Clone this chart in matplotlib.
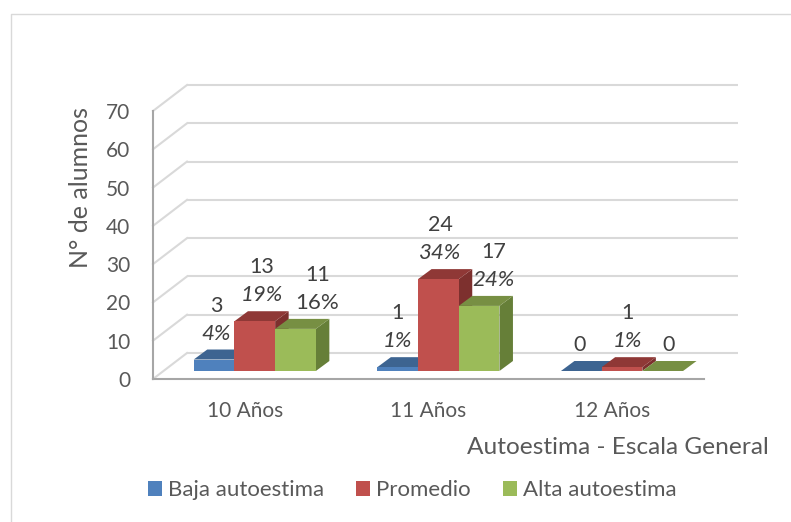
import matplotlib.pyplot as plt
from matplotlib.patches import Polygon, Rectangle
from matplotlib.transforms import Affine2D

plt.rcParams["font.family"] = ["Lato", "DejaVu Sans"]

categories = ["10 Años", "11 Años", "12 Años"]
series = ["Baja autoestima", "Promedio", "Alta autoestima"]
baja = [3, 1, 0]
promedio = [13, 24, 1]
alta = [11, 17, 0]
baja_pct = ["4%", "1%", ""]
promedio_pct = ["19%", "34%", "1%"]
alta_pct = ["16%", "24%", ""]
y_ticks = [0, 10, 20, 30, 40, 50, 60, 70]

front_colors = ["#4F81BD", "#C0504D", "#9BBB59"]
top_colors = ["#3D6491", "#8F3836", "#778F43"]
side_colors = ["#355579", "#7D302E", "#667F38"]
# horizontal nudge of the labels per series and group, pixels
label_dx = [[2, 0, -2], [7, 2, 5.5], [22, 14.5, 6]]

TEXT = "#595959"
LABEL = "#404040"
GRID = "#D9D9D9"
AXIS = "#A6A6A6"

CAT_PX = 183.6
UNIT_PX = 268 / 70
BAR_W = 40.7 / CAT_PX
DEPTH_X = 13.5 / CAT_PX
DEPTH_Y = 10 / UNIT_PX


def shifted(ax, dx, dy):
    return ax.transData + Affine2D().translate(dx, dy)


fig = plt.figure(figsize=(7.91, 5.22), dpi=100)
ax = fig.add_axes([153 / 791, (522 - 379) / 522, 3 * CAT_PX / 791, 268 / 522])
ax.set_xlim(-0.5, 2.5)
ax.set_ylim(0, 70)
ax.patch.set_visible(False)

# outer chart border
fig.add_artist(plt.Line2D([11 / 791, 11 / 791, 1], [0, 1 - 14 / 522, 1 - 14 / 522],
                          color=GRID, lw=1.0))

# walls
back = shifted(ax, 34, 26)
ax.hlines(y_ticks, -0.5, 2.5, color=GRID, lw=1.5, transform=back, clip_on=False, zorder=1)
for t in y_ticks:
    ax.plot([-0.5, -0.5 + 34 / CAT_PX], [t, t + 26 / UNIT_PX], color=GRID, lw=1.5,
            clip_on=False, zorder=1)

# bars, left to right so the later ones cover the earlier sides
plane = shifted(ax, 10, 8)
all_values = [baja, promedio, alta]
all_pct = [baja_pct, promedio_pct, alta_pct]
handles = []
for s, values in enumerate(all_values):
    for g, v in enumerate(values):
        x0 = g + (s - 1.5) * BAR_W
        x1 = x0 + BAR_W
        z = 3 + s + 3 * g
        rect = Rectangle((x0, 0), BAR_W, v, facecolor=front_colors[s], edgecolor="none",
                         transform=plane, clip_on=False, zorder=z + 0.2)
        ax.add_patch(rect)
        top = [(x0, v), (x1, v), (x1 + DEPTH_X, v + DEPTH_Y), (x0 + DEPTH_X, v + DEPTH_Y)]
        side = [(x1, 0), (x1 + DEPTH_X, DEPTH_Y), (x1 + DEPTH_X, v + DEPTH_Y), (x1, v)]
        ax.add_patch(Polygon(side, facecolor=side_colors[s], edgecolor="none",
                             transform=plane, clip_on=False, zorder=z))
        ax.add_patch(Polygon(top, facecolor=top_colors[s], edgecolor="none",
                             transform=plane, clip_on=False, zorder=z + 0.1))
        cx = x0 + BAR_W / 2
        dx = 10 + label_dx[s][g]
        pct = all_pct[s][g]
        ax.annotate(str(v), (cx, v), xytext=(dx, 8 + (54 if pct else 26)),
                    textcoords="offset pixels", ha="center", va="center",
                    fontsize=15.5, color=LABEL, zorder=30)
        if pct:
            # the 16% label of the reference is upright
            style = "normal" if pct == "16%" else "italic"
            ax.annotate(pct, (cx, v), xytext=(dx, 8 + 26), textcoords="offset pixels",
                        ha="center", va="center", fontsize=16, style=style,
                        color=LABEL, zorder=30)
    handles.append(Rectangle((0, 0), 1, 1, facecolor=front_colors[s], edgecolor="none"))

ax.set_xticks(range(len(categories)), categories)
ax.set_yticks(y_ticks)
ax.tick_params(axis="x", length=0, pad=16, labelsize=15, labelcolor=TEXT)
ax.tick_params(axis="y", length=0, pad=16.5, labelsize=15, labelcolor=TEXT)
for sp in ["top", "right"]:
    ax.spines[sp].set_visible(False)
for sp in ["left", "bottom"]:
    ax.spines[sp].set_color(AXIS)
    ax.spines[sp].set_linewidth(1.5)

fig.text(80 / 791, 1 - 187 / 522, "N° de alumnos", rotation=90, ha="center", va="center",
         fontsize=18, color=TEXT)
fig.text(769 / 791, 1 - 447 / 522, "Autoestima - Escala General", ha="right", va="center",
         fontsize=17.6, color=TEXT)
fig.legend(handles, series, loc="center", bbox_to_anchor=(412.5 / 791, 1 - 490.5 / 522), ncol=3,
           frameon=False, fontsize=16, labelcolor=TEXT, handlelength=0.63, handleheight=0.63,
           handletextpad=0.27, columnspacing=1.45, borderpad=0)

fig.savefig("out.png", dpi=100)
